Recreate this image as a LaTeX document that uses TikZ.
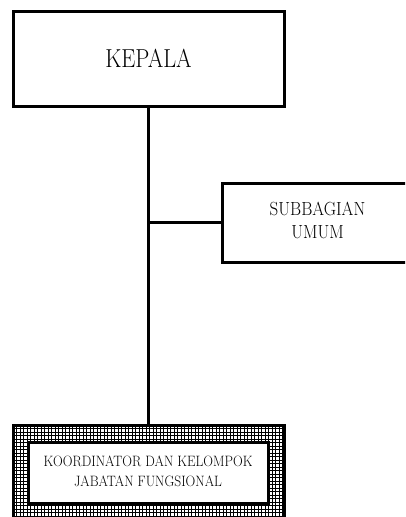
\documentclass[tikz,border=0pt]{standalone}
\usepackage{graphicx}
\begin{document}
\begin{tikzpicture}[x=1pt,y=-1pt,
  boxstyle/.style={draw=black,line width=3pt,fill=white,inner sep=0pt,anchor=center},
  conn/.style={draw=black,line width=3pt},
  hatch/.style={draw=black,line width=0.45pt}]
\useasboundingbox (0,0) rectangle (405,517);
\clip (0,0) rectangle (405,517);
% outer hatched box
\node[boxstyle,minimum width=271pt,minimum height=95pt] (outer) at (148.5,472.5) {};
\begin{scope}
\clip (13,425) rectangle (284,520);
\foreach \i in {0,...,80} {\draw[hatch] (13+\i*3.5,425) -- (13+\i*3.5,520);}
\foreach \j in {0,...,28} {\draw[hatch] (13,425+\j*3.5) -- (284,425+\j*3.5);}
\end{scope}
\draw[line width=3pt] (13,520) -- (13,425) -- (284,425) -- (284,520);
\node[boxstyle,minimum width=240pt,minimum height=61pt] (inner) at (148,472.5)
  {\scalebox{0.9}[1]{\fontsize{15}{20}\selectfont\begin{tabular}{@{}c@{}}KOORDINATOR DAN KELOMPOK\\JABATAN FUNGSIONAL\end{tabular}}};
\node[boxstyle,minimum width=271pt,minimum height=95pt] (kepala) at (148.5,58.5)
  {\scalebox{0.86}[1]{\fontsize{26}{30}\selectfont KEPALA}};
\node[boxstyle,minimum width=191pt,minimum height=79pt] (subbag) at (317.5,222.5)
  {\scalebox{0.895}[1]{\fontsize{19}{23}\selectfont\begin{tabular}{@{}c@{}}SUBBAGIAN\\UMUM\end{tabular}}};
\draw[conn] (kepala.south) -- (outer.north);
\draw[conn] (kepala.south |- subbag.west) -- (subbag.west);
\end{tikzpicture}
\end{document}
